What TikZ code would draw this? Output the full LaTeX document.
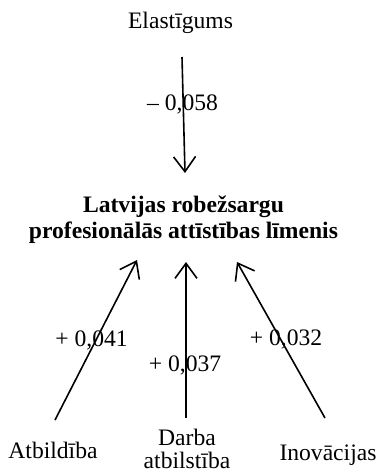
\documentclass[tikz,border=0pt]{standalone}
\usepackage{fontspec}
\setmainfont{Liberation Serif}
\usetikzlibrary{arrows.meta}
\begin{document}
\begin{tikzpicture}[x=1pt,y=-1pt,
  lbl/.style={inner sep=0pt, anchor=base, font=\fontsize{23.6}{26}\selectfont},
  arr/.style={line width=1.6pt, -{Straight Barb[length=15pt,width=22pt,line width=1.6pt]}}]
\useasboundingbox (0,0) rectangle (380,472);
% nodes
\node[lbl] (el) at (180.5,28) {Elastīgums};
\node[lbl, font=\bfseries\fontsize{23.6}{26}\selectfont] (title) at (183.5,212)
  {\begin{tabular}[t]{@{}c@{}}Latvijas robežsargu\\profesionālās attīstības līmenis\end{tabular}};
\node[lbl] (atb) at (53,458) {Atbildība};
\node[lbl, font=\fontsize{23.6}{23}\selectfont] (dar) at (187,445)
  {\begin{tabular}[t]{@{}c@{}}Darba\\atbilstība\end{tabular}};
\node[lbl] (ino) at (328,460) {Inovācijas};
% arrow ends
\coordinate (elS) at (182,57);
\coordinate (tT) at (185,173);
\coordinate (atbN) at (55,420);
\coordinate (t1) at (137,260);
\coordinate (darN) at (186,418);
\coordinate (t2) at (186,262);
\coordinate (inoN) at (325,418);
\coordinate (t3) at (237,262);
% connectors
\draw[arr] (elS) -- (tT);
\draw[arr] (atbN) -- (t1);
\draw[arr] (darN) -- (t2);
\draw[arr] (inoN) -- (t3);
% labels
\node[lbl] (w0) at (182.5,110) {– 0,058};
\node[lbl] (w1) at (91.5,346) {+ 0,041};
\node[lbl] (w2) at (185,371) {+ 0,037};
\node[lbl] (w3) at (286,345) {+ 0,032};
\end{tikzpicture}
\end{document}
